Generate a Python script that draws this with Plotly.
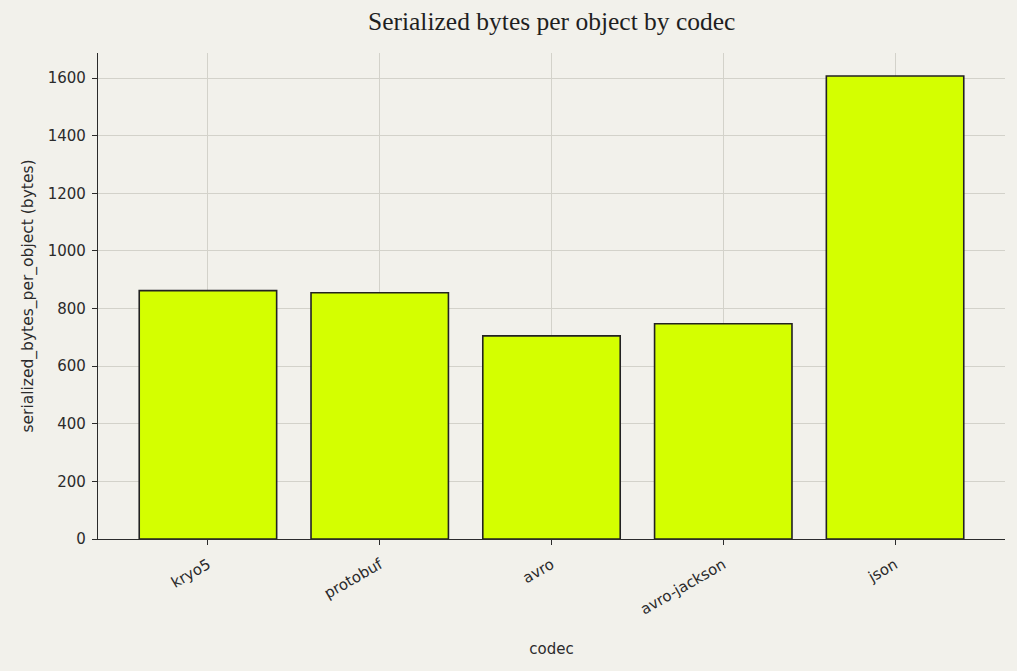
import plotly.graph_objects as go

codecs = ["kryo5", "protobuf", "avro", "avro-jackson", "json"]
bytes_per_object = [862, 855, 705, 747, 1607]
y_ticks = [0, 200, 400, 600, 800, 1000, 1200, 1400, 1600]

BG = "#f2f1eb"
TXT = "#2b2b2b"
GRID = "#d3d2ca"
FONT = "DejaVu Sans"

fig = go.Figure(
    go.Bar(
        x=list(range(len(codecs))),
        y=bytes_per_object,
        width=0.8,
        marker=dict(color="#d4ff00", line=dict(color="#222222", width=1.6)),
    )
)

fig.update_layout(
    width=1017,
    height=671,
    paper_bgcolor=BG,
    plot_bgcolor=BG,
    margin=dict(l=98, r=12, t=53, b=132),
    showlegend=False,
    title=dict(
        text="Serialized bytes per object by codec",
        x=0.5425,
        xanchor="center",
        y=0.968,
        yanchor="middle",
        font=dict(family="Liberation Serif", size=25.5, color="#1f1f1f"),
    ),
    font=dict(family=FONT, color=TXT, size=14),
)

fig.update_xaxes(
    range=[-0.64, 4.64],
    tickmode="array",
    tickvals=list(range(len(codecs))),
    ticktext=codecs,
    tickangle=-30,
    ticks="outside",
    ticklen=5,
    tickwidth=1,
    tickcolor=TXT,
    ticklabelstandoff=5,
    showline=True,
    linecolor=TXT,
    linewidth=1.3,
    showgrid=True,
    gridcolor=GRID,
    gridwidth=1,
    zeroline=False,
    layer="above traces",
    tickfont=dict(family=FONT, size=15, color=TXT),
    title=dict(text="codec", font=dict(family=FONT, size=15, color=TXT), standoff=26),
)

fig.update_yaxes(
    range=[0, 1687],
    tickmode="array",
    tickvals=y_ticks,
    ticks="outside",
    ticklen=5,
    tickwidth=1,
    tickcolor=TXT,
    ticklabelstandoff=3,
    showline=True,
    linecolor=TXT,
    linewidth=1.3,
    showgrid=True,
    gridcolor=GRID,
    gridwidth=1,
    zeroline=False,
    layer="above traces",
    tickfont=dict(family=FONT, size=15, color=TXT),
    title=dict(text="serialized_bytes_per_object (bytes)", font=dict(family=FONT, size=15.5, color=TXT), standoff=10),
)

fig.write_html(
    "out.html",
    config={"displayModeBar": False},
    post_script="document.body.style.margin='0';document.body.style.padding='0';",
)
